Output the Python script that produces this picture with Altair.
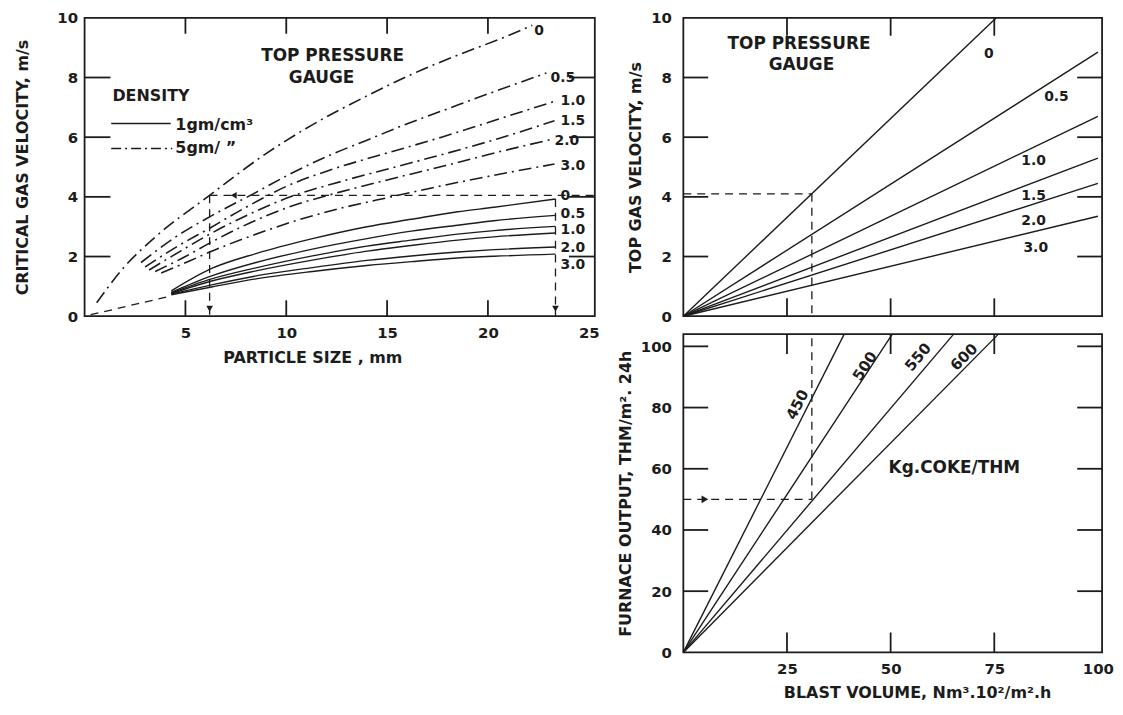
import altair as alt
import pandas as pd

FONT = "DejaVu Sans"
INK = "#1c1c1c"

# ---------------- Panel A : critical gas velocity vs particle size ----------------
pressure_labels = ["0", "0.5", "1.0", "1.5", "2.0", "3.0"]

# density 5 g/cm3 (dash-dot curves)
d5_p00_x = [0.6, 1.9, 3.5, 6.2, 9.0, 11.0, 14.2, 16.2, 18.5, 21.0, 22.2]
d5_p00_y = [0.45, 1.6, 2.65, 4.05, 5.45, 6.3, 7.45, 8.1, 8.75, 9.4, 9.75]
d5_p05_x = [2.8, 4.5, 6.2, 8.5, 10.0, 12.0, 14.0, 16.0, 18.0, 20.0, 22.9]
d5_p05_y = [1.8, 2.65, 3.33, 4.15, 4.7, 5.35, 5.9, 6.45, 6.95, 7.45, 8.15]
d5_p10_x = [3.0, 4.5, 6.2, 8.0, 10.0, 12.4, 14.9, 17.7, 20.5, 23.3]
d5_p10_y = [1.65, 2.3, 2.95, 3.65, 4.35, 4.95, 5.45, 6.0, 6.6, 7.2]
d5_p15_x = [3.2, 4.8, 6.2, 7.8, 10.0, 12.9, 15.4, 17.9, 20.5, 23.3]
d5_p15_y = [1.55, 2.2, 2.75, 3.3, 3.95, 4.55, 5.0, 5.45, 5.95, 6.55]
d5_p20_x = [3.5, 5.0, 6.2, 7.8, 10.1, 12.6, 15.2, 17.9, 20.5, 23.3]
d5_p20_y = [1.5, 2.0, 2.45, 3.0, 3.65, 4.15, 4.6, 5.05, 5.5, 5.95]
d5_p30_x = [3.8, 5.2, 6.2, 8.3, 10.0, 12.6, 15.2, 17.9, 20.5, 23.3]
d5_p30_y = [1.45, 1.85, 2.15, 2.7, 3.1, 3.6, 4.0, 4.4, 4.75, 5.1]

# density 1 g/cm3 (solid curves)
d1_x = [4.3, 6.3, 8.5, 11.3, 14.0, 16.2, 18.5, 20.3, 23.35]
d1_p00_y = [0.85, 1.6, 2.1, 2.6, 3.0, 3.25, 3.5, 3.65, 3.93]
d1_p05_y = [0.8, 1.35, 1.8, 2.25, 2.6, 2.85, 3.05, 3.2, 3.38]
d1_p10_y = [0.78, 1.25, 1.62, 2.02, 2.35, 2.55, 2.75, 2.87, 3.01]
d1_p15_y = [0.76, 1.18, 1.52, 1.88, 2.18, 2.37, 2.55, 2.66, 2.79]
d1_p20_y = [0.74, 1.05, 1.35, 1.63, 1.87, 2.02, 2.15, 2.23, 2.32]
d1_p30_y = [0.72, 0.98, 1.25, 1.5, 1.7, 1.83, 1.95, 2.01, 2.08]

d5_label_x = [22.3, 23.1, 23.6, 23.6, 23.3, 23.6]
d5_label_y = [9.55, 7.99, 7.21, 6.54, 5.88, 5.04]
d1_label_text = ["0", "0.5", "1.0", "2.0", "3.0"]
d1_label_x = [23.6, 23.6, 23.6, 23.6, 23.6]
d1_label_y = [4.04, 3.41, 2.88, 2.27, 1.71]

a_ref_particle = 6.2     # mm, worked example
a_ref_velocity = 4.05    # m/s
a_ref_particle2 = 23.35
a_origin_dash = [(0.3, 0.05), (4.3, 0.68)]

# ---------------- Panel B : top gas velocity vs blast volume ----------------
b_end_x = [75.5, 100, 100, 100, 100, 100]
b_end_y = [10.0, 8.85, 6.7, 5.3, 4.45, 3.35]
b_label_x = [73.7, 90.0, 84.5, 84.5, 84.5, 85.0]
b_label_y = [8.8, 7.33, 5.2, 4.03, 3.2, 2.27]
b_ref_blast = 31.0
b_ref_velocity = 4.1

# ---------------- Panel C : furnace output vs blast volume ----------------
coke_rates = ["450", "500", "550", "600"]
c_end_x = [38.8, 50.4, 65.2, 76.0]
c_end_y = [104, 104, 104, 104]
c_label_x = [27.5, 43.8, 56.6, 67.7]
c_label_y = [81.0, 93.5, 96.5, 96.5]
c_label_angle = [297, 303, 310, 315]
c_ref_blast = 31.0
c_ref_output = 50.0

# ---------------- helpers ----------------
def frame_ticks(xt, yt, xdom, ydom, w, h, vlen, hlen):
    """inward ticks on all four sides, lengths given in pixels"""
    vy = vlen * (ydom[1] - ydom[0]) / h
    hx = hlen * (xdom[1] - xdom[0]) / w
    rows = []
    for t in xt:
        rows.append((t, ydom[0], t, ydom[0] + vy))
        rows.append((t, ydom[1], t, ydom[1] - vy))
    for t in yt:
        rows.append((xdom[0], t, xdom[0] + hx, t))
        rows.append((xdom[1], t, xdom[1] - hx, t))
    return pd.DataFrame(rows, columns=["x", "y", "x2", "y2"])


def seg_df(rows):
    return pd.DataFrame(rows, columns=["x", "y", "x2", "y2"])


def encs(xdom, ydom, xaxis, yaxis):
    xs = alt.Scale(domain=xdom, nice=False, zero=False)
    ys = alt.Scale(domain=ydom, nice=False, zero=False)
    X = alt.X("x:Q", scale=xs, axis=xaxis)
    Y = alt.Y("y:Q", scale=ys, axis=yaxis)
    return X, Y


def rules(df, X, Y, **mk):
    return alt.Chart(df).mark_rule(color=INK, **mk).encode(
        x=X, y=Y, x2=alt.X2("x2:Q"), y2=alt.Y2("y2:Q"))


def texts(df, X, Y, **mk):
    return alt.Chart(df).mark_text(font=FONT, fontWeight="bold", color=INK, **mk).encode(
        x=X, y=Y, text="t:N")


DASHDOT = [13, 5, 2, 5]
DASH = [8, 6]

# ================= Panel A =================
A_W, A_H = 513, 300
A_XD, A_YD = [0, 25.3], [0, 10]
axA_x = alt.Axis(values=[5, 10, 15, 20, 25], title="PARTICLE  SIZE , mm",
                 labelPadding=9, titlePadding=10, titleX=229)
axA_y = alt.Axis(values=[0, 2, 4, 6, 8, 10], title="CRITICAL GAS VELOCITY, m/s",
                 labelPadding=7, titlePadding=27)
XA, YA = encs(A_XD, A_YD, axA_x, axA_y)

d5_sets = [(d5_p00_x, d5_p00_y), (d5_p05_x, d5_p05_y), (d5_p10_x, d5_p10_y),
           (d5_p15_x, d5_p15_y), (d5_p20_x, d5_p20_y), (d5_p30_x, d5_p30_y)]
d1_sets = [d1_p00_y, d1_p05_y, d1_p10_y, d1_p15_y, d1_p20_y, d1_p30_y]

rows5, rows1 = [], []
for p, (xs, ys) in zip(pressure_labels, d5_sets):
    for i, (a, b) in enumerate(zip(xs, ys)):
        rows5.append({"s": p, "x": a, "y": b, "o": i})
for p, ys in zip(pressure_labels, d1_sets):
    for i, (a, b) in enumerate(zip(d1_x, ys)):
        rows1.append({"s": p, "x": a, "y": b, "o": i})
dfA5, dfA1 = pd.DataFrame(rows5), pd.DataFrame(rows1)

ticksA = frame_ticks([5, 10, 15, 20], [2, 4, 6, 8], A_XD, A_YD, A_W, A_H, 16, 26)
dashA = seg_df([
    (a_ref_particle, a_ref_velocity, A_XD[1], a_ref_velocity),
    (a_ref_particle, a_ref_velocity, a_ref_particle, 0),
    (a_ref_particle2, 3.93, a_ref_particle2, 0),
    (a_origin_dash[0][0], a_origin_dash[0][1], a_origin_dash[1][0], a_origin_dash[1][1]),
])
legA_solid = seg_df([(1.32, 6.46, 4.27, 6.46)])
legA_dd = seg_df([(1.32, 5.62, 4.35, 5.62)])

arrowsA_down = pd.DataFrame({"x": [a_ref_particle, a_ref_particle2], "y": [0.25, 0.25]})
arrowsA_left = pd.DataFrame({"x": [7.4], "y": [a_ref_velocity]})

labA5 = pd.DataFrame({"x": d5_label_x, "y": d5_label_y, "t": pressure_labels})
labA1 = pd.DataFrame({"x": d1_label_x, "y": d1_label_y, "t": d1_label_text})
annA_c = pd.DataFrame({"x": [12.3, 11.75], "y": [8.71, 7.99], "t": ["TOP  PRESSURE", "GAUGE"]})
annA_l = pd.DataFrame({"x": [1.38, 4.5, 4.5], "y": [7.38, 6.42, 5.64],
                       "t": ["DENSITY", "1gm/cm³", "5gm/ \u201d"]})

panelA = alt.layer(
    rules(ticksA, XA, YA, strokeWidth=1.8),
    rules(dashA, XA, YA, strokeWidth=1.3, strokeDash=DASH),
    alt.Chart(dfA1).mark_line(color=INK, strokeWidth=1.4, interpolate="monotone").encode(
        x=XA, y=YA, detail="s:N", order="o:Q"),
    alt.Chart(dfA5).mark_line(color=INK, strokeWidth=1.6, interpolate="monotone",
                              strokeDash=DASHDOT).encode(x=XA, y=YA, detail="s:N", order="o:Q"),
    rules(legA_solid, XA, YA, strokeWidth=1.4),
    rules(legA_dd, XA, YA, strokeWidth=1.6, strokeDash=[10, 4, 2, 4]),
    alt.Chart(arrowsA_down).mark_point(shape="triangle-down", filled=True, color=INK, size=45, opacity=1).encode(x=XA, y=YA),
    alt.Chart(arrowsA_left).mark_point(shape="triangle-left", filled=True, color=INK, size=45, opacity=1).encode(x=XA, y=YA),
    texts(labA5, XA, YA, align="left", baseline="middle", fontSize=14),
    texts(labA1, XA, YA, align="left", baseline="middle", fontSize=14),
    texts(annA_c, XA, YA, align="center", baseline="middle", fontSize=17),
    texts(annA_l, XA, YA, align="left", baseline="middle", fontSize=16),
).properties(width=A_W, height=A_H)

# ================= Panel B =================
B_W, B_H = 421, 300
B_XD, B_YD = [0, 101], [0, 10]
axB_x = alt.Axis(values=[25, 50, 75, 100], labels=False, title=None)
axB_y = alt.Axis(values=[0, 2, 4, 6, 8, 10], title="TOP GAS VELOCITY, m/s",
                 labelPadding=12, titlePadding=7)
XB, YB = encs(B_XD, B_YD, axB_x, axB_y)

rowsB = []
for p, ex, ey in zip(pressure_labels, b_end_x, b_end_y):
    rowsB.append({"s": p, "x": 0, "y": 0, "o": 0})
    rowsB.append({"s": p, "x": ex, "y": ey, "o": 1})
dfB = pd.DataFrame(rowsB)
ticksB = frame_ticks([25, 50, 75], [2, 4, 6, 8], B_XD, B_YD, B_W, B_H, 18, 25)
dashB = seg_df([(0, b_ref_velocity, b_ref_blast, b_ref_velocity),
                (b_ref_blast, b_ref_velocity, b_ref_blast, 0)])
labB = pd.DataFrame({"x": b_label_x, "y": b_label_y, "t": pressure_labels})
annB = pd.DataFrame({"x": [27.9, 28.5], "y": [9.13, 8.41], "t": ["TOP  PRESSURE", "GAUGE"]})

panelB = alt.layer(
    rules(ticksB, XB, YB, strokeWidth=1.8),
    rules(dashB, XB, YB, strokeWidth=1.3, strokeDash=DASH),
    alt.Chart(dfB).mark_line(color=INK, strokeWidth=1.4).encode(x=XB, y=YB, detail="s:N", order="o:Q"),
    texts(labB, XB, YB, align="center", baseline="middle", fontSize=14),
    texts(annB, XB, YB, align="center", baseline="middle", fontSize=17),
).properties(width=B_W, height=B_H)

# ================= Panel C =================
C_W, C_H = 421, 320
C_XD, C_YD = [0, 101], [0, 104]
axC_x = alt.Axis(values=[25, 50, 75, 100], title="BLAST  VOLUME, Nm³.10²/m².h",
                 labelPadding=9, titlePadding=8, titleX=235)
axC_y = alt.Axis(values=[0, 20, 40, 60, 80, 100], title="FURNACE OUTPUT, THM/m². 24h",
                 labelPadding=12, titlePadding=7)
XC, YC = encs(C_XD, C_YD, axC_x, axC_y)

rowsC = []
for r, ex, ey in zip(coke_rates, c_end_x, c_end_y):
    rowsC.append({"s": r, "x": 0, "y": 0, "o": 0})
    rowsC.append({"s": r, "x": ex, "y": ey, "o": 1})
dfC = pd.DataFrame(rowsC)
ticksC = frame_ticks([25, 50, 75], [20, 40, 60, 80, 100], C_XD, C_YD, C_W, C_H, 20, 25)
dashC = seg_df([(0, c_ref_output, c_ref_blast, c_ref_output),
                (c_ref_blast, c_ref_output, c_ref_blast, C_YD[1])])
arrowC = pd.DataFrame({"x": [5.2], "y": [c_ref_output]})
labC = pd.DataFrame({"x": c_label_x, "y": c_label_y, "t": coke_rates, "a": c_label_angle})
annC = pd.DataFrame({"x": [49.5], "y": [60.4], "t": ["Kg.COKE/THM"]})

panelC = alt.layer(
    rules(ticksC, XC, YC, strokeWidth=1.8),
    rules(dashC, XC, YC, strokeWidth=1.3, strokeDash=DASH),
    alt.Chart(dfC).mark_line(color=INK, strokeWidth=1.4).encode(x=XC, y=YC, detail="s:N", order="o:Q"),
    alt.Chart(arrowC).mark_point(shape="triangle-right", filled=True, color=INK, size=60, opacity=1).encode(x=XC, y=YC),
    alt.Chart(labC).mark_text(font=FONT, fontWeight="bold", color=INK, fontSize=15,
                              align="center", baseline="middle").encode(
        x=XC, y=YC, text="t:N", angle=alt.Angle("a:Q", scale=None)),
    texts(annC, XC, YC, align="left", baseline="middle", fontSize=17),
).properties(width=C_W, height=C_H)

chart = alt.hconcat(
    panelA,
    alt.vconcat(panelB, panelC, spacing=5),
    spacing=15,
).properties(
    padding={"left": 5, "top": 0, "right": 0, "bottom": 0},
    background="white",
).configure_axis(
    labelFont=FONT, titleFont=FONT, labelFontSize=15, titleFontSize=16,
    labelFontWeight="bold", titleFontWeight="bold", labelColor=INK, titleColor=INK,
    ticks=False, domain=False, grid=False,
).configure_view(stroke=INK, strokeWidth=1.8)

chart.save("out.html", embed_options={"renderer": "svg", "actions": False})
